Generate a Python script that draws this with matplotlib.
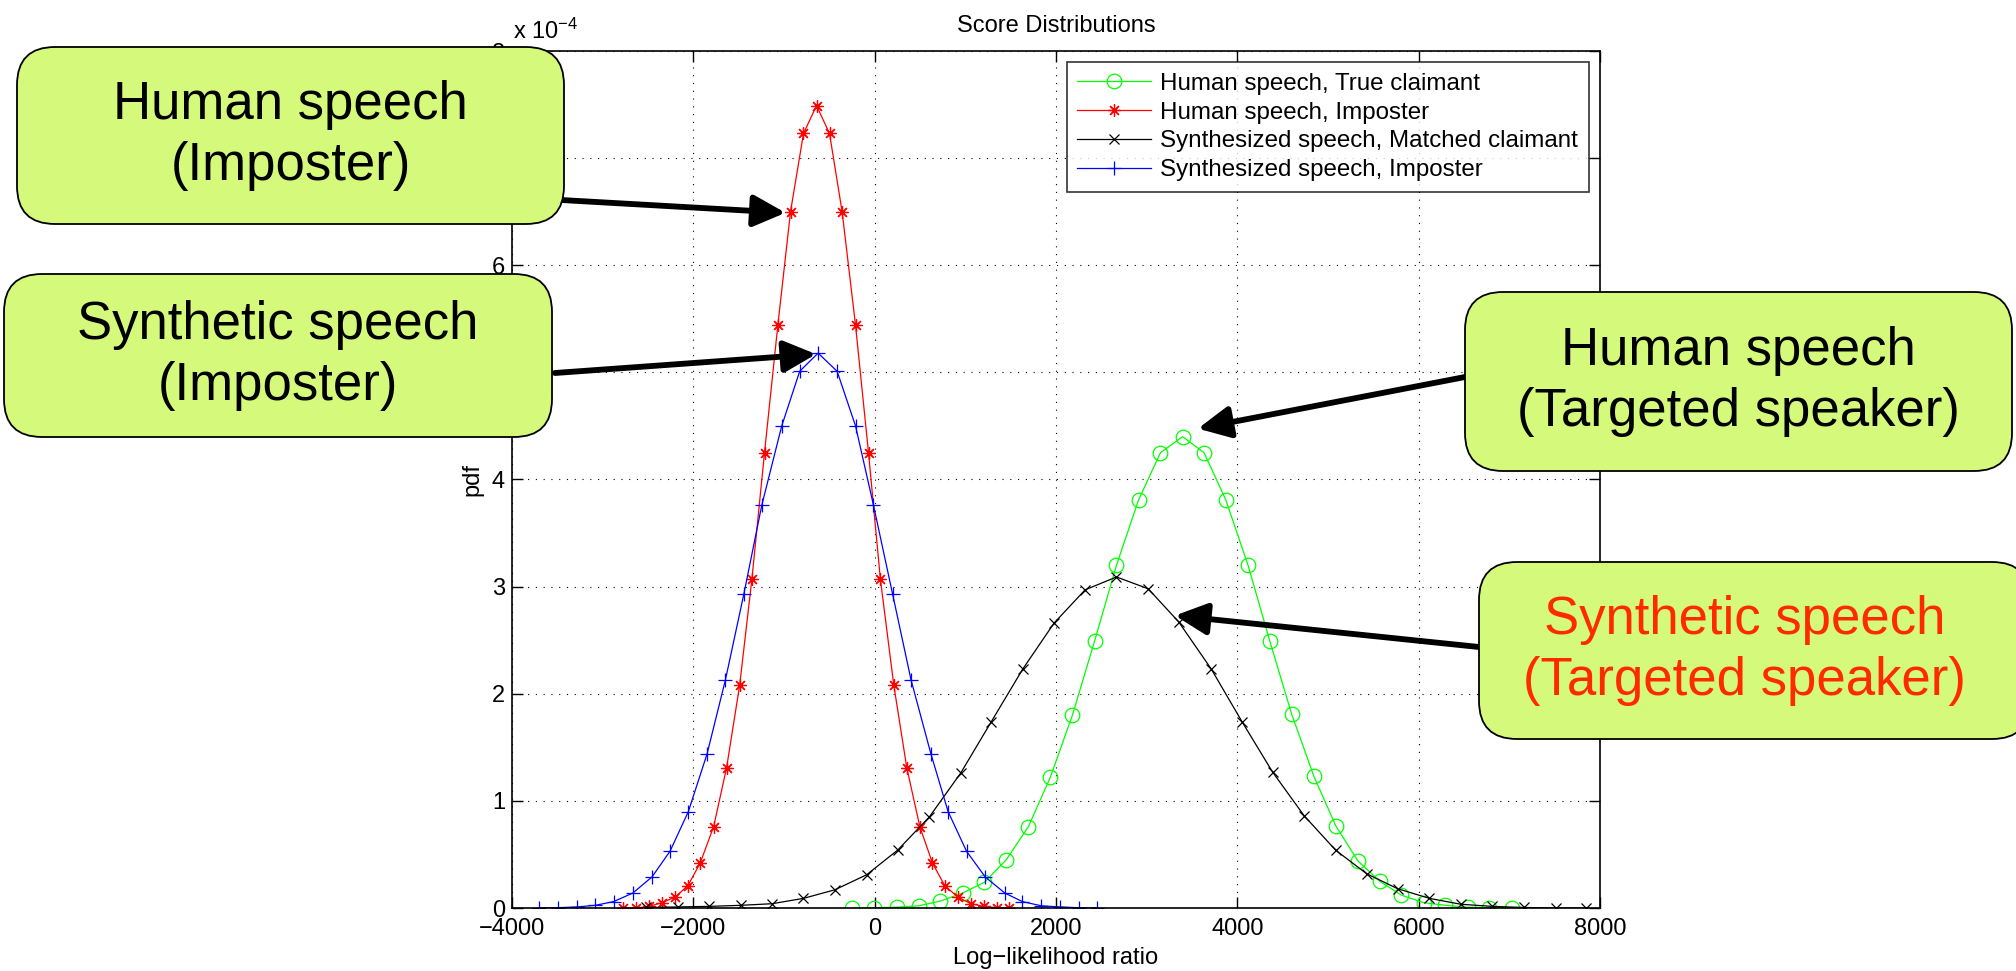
import matplotlib
matplotlib.use("Agg")
import matplotlib.pyplot as plt
from matplotlib.patches import FancyBboxPatch

plt.rcParams['font.family'] = ['Liberation Sans', 'DejaVu Sans']
plt.rcParams['mathtext.default'] = 'regular'

# ---------------- data (pdf values in units of 1e-4) ----------------
human_true_x = [-245, -3, 241, 485, 726, 970, 1211, 1451, 1696, 1937, 2181, 2425, 2667, 2911, 3152,
                3397, 3633, 3873, 4118, 4359, 4599, 4844, 5084, 5329, 5570, 5810, 6055, 6295, 6540, 6781, 7025]
human_true_y = [0, 0.002, 0.008, 0.02, 0.065, 0.14, 0.24, 0.45, 0.76, 1.22, 1.80, 2.49, 3.20, 3.81, 4.25,
                4.40, 4.25, 3.81, 3.20, 2.49, 1.81, 1.23, 0.77, 0.44, 0.25, 0.12, 0.05, 0.025, 0.007, 0.003, 0]

human_imp_x = [-2776, -2633, -2489, -2346, -2203, -2059, -1924, -1776, -1633, -1489, -1354, -1215, -1068, -928, -785,
               -641, -498, -359, -211, -68, 63, 211, 354, 498, 637, 772, 920, 1063, 1203, 1346, 1485]
human_imp_y = [0, 0, 0.015, 0.05, 0.10, 0.21, 0.42, 0.76, 1.31, 2.08, 3.07, 4.25, 5.44, 6.50, 7.23,
               7.49, 7.23, 6.50, 5.44, 4.25, 3.07, 2.08, 1.31, 0.76, 0.42, 0.21, 0.10, 0.04, 0.015, 0.003, 0]

synth_match_x = [-2523, -2173, -1827, -1477, -1131, -785, -439, -89, 253, 603, 949, 1287, 1633, 1979, 2321,
                 2667, 3017, 3354, 3713, 4051, 4388, 4738, 5084, 5426, 5768, 6118, 6464, 6814, 7160, 7511, 7848]
synth_match_y = [0.005, 0.01, 0.015, 0.025, 0.04, 0.09, 0.17, 0.31, 0.54, 0.85, 1.26, 1.74, 2.23, 2.66, 2.97,
                 3.09, 2.98, 2.67, 2.23, 1.74, 1.27, 0.86, 0.54, 0.32, 0.18, 0.09, 0.035, 0.015, 0.005, 0, 0]

synth_imp_x = [-3705, -3494, -3283, -3080, -2878, -2667, -2456, -2257, -2055, -1848, -1646, -1443, -1245, -1025, -827,
               -624, -414, -211, -13, 198, 401, 620, 810, 1013, 1219, 1435, 1629, 1840, 2046, 2253, 2456]
synth_imp_y = [0, 0.003, 0.01, 0.025, 0.06, 0.14, 0.29, 0.53, 0.90, 1.44, 2.13, 2.93, 3.76, 4.50, 5.01,
               5.18, 5.01, 4.50, 3.76, 2.93, 2.13, 1.44, 0.90, 0.53, 0.29, 0.14, 0.06, 0.02, 0.01, 0.002, 0]

series_labels = ["Human speech, True claimant", "Human speech, Imposter",
                 "Synthesized speech, Matched claimant", "Synthesized speech, Imposter"]
x_ticks = [-4000, -2000, 0, 2000, 4000, 6000, 8000]
y_ticks = [0, 1, 2, 3, 4, 5, 6, 7, 8]

box_texts = ["Human speech\n(Imposter)", "Synthetic speech\n(Imposter)",
             "Human speech\n(Targeted speaker)", "Synthetic speech\n(Targeted speaker)"]

# ---------------- figure ----------------
W, H = 2016, 971
fig = plt.figure(figsize=(W / 100, H / 100), dpi=100)
ax = fig.add_axes([512 / W, (H - 908) / H, (1600 - 512) / W, (908 - 51) / H])

FS = 17
lw = 0.9
asterisk = (8, 2, 0)
ax.plot(human_true_x, human_true_y, color=(0, 1, 0), lw=lw, marker='o', ms=10.5, mfc='none', mew=lw,
        label=series_labels[0])
ax.plot(human_imp_x, human_imp_y, color=(1, 0, 0), lw=lw, marker=asterisk, ms=9, mew=lw,
        label=series_labels[1])
ax.plot(synth_match_x, synth_match_y, color='black', lw=lw, marker='x', ms=7, mew=lw,
        label=series_labels[2])
ax.plot(synth_imp_x, synth_imp_y, color=(0, 0, 1), lw=lw, marker='+', ms=10, mew=lw,
        label=series_labels[3])

ax.set_xlim(-4000, 8000)
ax.set_ylim(0, 8)
ax.set_xticks(x_ticks)
ax.set_yticks(y_ticks)
ax.tick_params(direction='in', length=8, width=1.0, top=True, right=True, labelsize=FS)
ax.tick_params(axis='x', pad=7)
ax.tick_params(axis='y', pad=5)
for s in ax.spines.values():
    s.set_linewidth(1.2)
ax.grid(True, color='black', lw=0.8, linestyle=(0, (1, 6)))

ax.set_title("Score Distributions", fontsize=FS, pad=14)
ax.set_xlabel("Log\u2212likelihood ratio", fontsize=FS, labelpad=5)
ax.set_ylabel("pdf", fontsize=FS, labelpad=6)
fig.text(513 / W, (H - 39) / H, "x 10$^{\u22124}$", fontsize=FS, ha='left', va='baseline')

leg = ax.legend(loc='upper right', fontsize=17.4, frameon=True, fancybox=False, numpoints=1,
                handlelength=3.06, handletextpad=0.37, borderpad=0.45, labelspacing=0.28,
                borderaxespad=0.45)
leg.get_frame().set_edgecolor('black')
leg.get_frame().set_linewidth(1.2)

# ---------------- annotation arrows ----------------
arrow_tips = [(-983, 6.49), (-646, 5.17), (3565, 4.475), (3312, 2.73)]
arrow_starts_px = [(561, 200), (555, 373), (1465, 377), (1479, 647)]
for (tx, ty), (sx, sy) in zip(arrow_tips, arrow_starts_px):
    ax.annotate('', xy=(tx, ty), xycoords='data', xytext=(sx, H - sy), textcoords='figure pixels',
                annotation_clip=False,
                arrowprops=dict(arrowstyle='-|>,head_length=0.65,head_width=0.32', lw=4.2,
                                color='black', mutation_scale=30, shrinkA=0, shrinkB=0))

# ---------------- callout boxes (figure pixels, top-left origin) ----------------
box_geom = [(17, 47, 564, 224), (4, 274, 552, 437), (1465, 292, 2012, 471), (1479, 562, 2030, 739)]
box_colors = ['black', 'black', 'black', '#FF2A00']
for (x0, y0, x1, y1), txt, col in zip(box_geom, box_texts, box_colors):
    patch = FancyBboxPatch((x0 / 100, (H - y1) / 100), (x1 - x0) / 100, (y1 - y0) / 100,
                           boxstyle='round,pad=0,rounding_size=0.38', transform=fig.dpi_scale_trans,
                           facecolor='#D4F97B', edgecolor='black', lw=1.3, zorder=5)
    fig.add_artist(patch)
    cx = (x0 + x1) / 2 if x1 <= W else (x0 + 2010) / 2
    cy = (y0 + y1) / 2
    fig.text(cx / 100, (H - cy) / 100, txt, transform=fig.dpi_scale_trans, fontsize=38, color=col,
             ha='center', va='center', multialignment='center', linespacing=1.3, zorder=6)

fig.savefig("out.png", dpi=100)
